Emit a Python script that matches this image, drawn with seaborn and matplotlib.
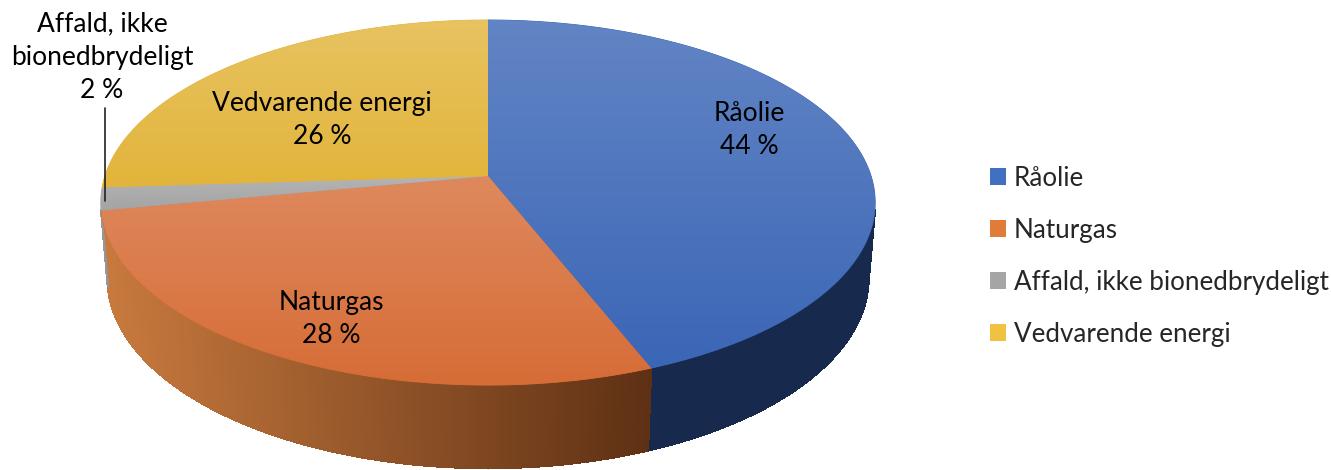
import numpy as np
import matplotlib
matplotlib.use("Agg")
import matplotlib.pyplot as plt
import seaborn as sns
from matplotlib.patches import Polygon, Patch
from matplotlib.collections import PolyCollection, LineCollection
from matplotlib.lines import Line2D

# --- data ---------------------------------------------------------------
categories = ["Råolie", "Naturgas", "Affald, ikke bionedbrydeligt", "Vedvarende energi"]
shares = [44, 28, 2, 26]
label_names = ["Råolie", "Naturgas", "Affald, ikke\nbionedbrydeligt", "Vedvarende energi"]

# --- styling --------------------------------------------------------------
sns.set_theme(style="white")
plt.rcParams["font.family"] = ["Lato", "DejaVu Sans"]

top_base = [(59, 102, 182), (214, 108, 54), (163, 163, 163), (226, 180, 58)]
side_light = [(80, 112, 180), (200, 122, 62), (150, 150, 150), (205, 160, 50)]
side_dark = [(23, 42, 77), (94, 48, 20), (80, 80, 80), (110, 85, 25)]
legend_cols = ["#4270c0", "#e07b3a", "#a5a5a5", "#f1c142"]
FONT_PT = 19

# perspective camera for the disc
SIN_E = 0.4665
COS_E = np.sqrt(1 - SIN_E ** 2)
DIST = 6.085
FOCAL = 2331.0
THICK = 0.224
CX, CY = 488.0, 176.0


def project(u, v, h=0.0):
    yc = v * SIN_E + h * COS_E
    zc = DIST + v * COS_E - h * SIN_E
    return CX + FOCAL * u / zc, CY - FOCAL * yc / zc


def rgb(c):
    return np.array(c, dtype=float) / 255.0


fig = plt.figure(figsize=(13.31, 4.70), dpi=100)
ax = fig.add_axes([0, 0, 1, 1])
ax.set_xlim(0, 1331)
ax.set_ylim(470, 0)
ax.axis("off")

values = np.array(shares, dtype=float)
edges = np.concatenate([[0.0], np.cumsum(values)]) / values.sum() * 2 * np.pi

# horizontal distance of the camera -> outer wall visible where cos(theta) < limit
cam_h = DIST * COS_E
vis_limit = -1.0 / cam_h

# --- outer walls (drawn first, covered by the top faces) -------------------
for i in range(len(values)):
    th = np.linspace(edges[i], edges[i + 1], 400)
    polys, cols, rim = [], [], []
    for a, b in zip(th[:-1], th[1:]):
        m = 0.5 * (a + b)
        if np.cos(m) >= vis_limit:
            continue
        p1 = project(np.sin(a), np.cos(a))
        p2 = project(np.sin(b), np.cos(b))
        p3 = project(np.sin(b), np.cos(b), -THICK)
        p4 = project(np.sin(a), np.cos(a), -THICK)
        polys.append([p1, p2, p3, p4])
        rim.append([p4, p3])
        xm = 0.25 * (p1[0] + p2[0] + p3[0] + p4[0])
        s = np.clip((xm - 105) / (650 - 105), 0, 1)
        cols.append((1 - s) * rgb(side_light[i]) + s * rgb(side_dark[i]))
    if polys:
        ax.add_collection(PolyCollection(polys, facecolors=cols, edgecolors=cols,
                                         linewidths=1.0, antialiaseds=False))
        # smooth lower rim of the wall
        ax.add_collection(LineCollection(rim, colors=cols, linewidths=1.0,
                                         antialiaseds=True))

# --- top faces with a soft vertical gradient --------------------------------
for i in range(len(values)):
    th = np.linspace(edges[i], edges[i + 1], 300)
    pts = [project(0, 0)] + [project(np.sin(t), np.cos(t)) for t in th]
    pts = np.array(pts)
    base = rgb(top_base[i])
    face = Polygon(pts, closed=True, facecolor=base, edgecolor=base, lw=0.6,
                   transform=ax.transData)
    ax.add_patch(Polygon(pts, closed=True, facecolor=base, edgecolor=base, lw=0.6))
    x0, x1 = pts[:, 0].min() - 2, pts[:, 0].max() + 2
    y0, y1 = pts[:, 1].min() - 2, pts[:, 1].max() + 2
    ny = 200
    t = np.linspace(0.2, 0.0, ny)[:, None]
    grad = base[None, :] * (1 - t) + t
    img = np.repeat(grad[:, None, :], 2, axis=1)
    im = ax.imshow(img, extent=(x0, x1, y1, y0), origin="upper",
                   interpolation="bilinear", aspect="auto", zorder=2)
    im.set_clip_path(face)

ax.set_xlim(0, 1331)
ax.set_ylim(470, 0)

# --- data labels -----------------------------------------------------------
label_pos = [(749, 130), (331, 319), (102, 57), (322, 120)]
for i, (name, val) in enumerate(zip(label_names, shares)):
    x, y = label_pos[i]
    ax.text(x, y, f"{name}\n{val} %", ha="center", va="center",
            fontsize=FONT_PT, color="black", linespacing=1.4, zorder=5)

# leader line for the small slice
mid = 0.5 * (edges[2] + edges[3])
rx, ry = project(np.sin(mid), np.cos(mid))
ax.add_line(Line2D([rx + 4, rx + 4], [108, ry + 2], color="#222222", lw=1.2, zorder=5))

# --- legend ----------------------------------------------------------------
handles = [Patch(facecolor=c, edgecolor="none") for c in legend_cols]
ax.legend(handles, categories, loc="upper left", bbox_to_anchor=(990 / 1331, 1 - 166 / 470),
          frameon=False, fontsize=18.7, handlelength=0.63, handleheight=0.63,
          handletextpad=0.28, labelspacing=1.04, borderpad=0, borderaxespad=0)

fig.savefig("out.png", dpi=100)
